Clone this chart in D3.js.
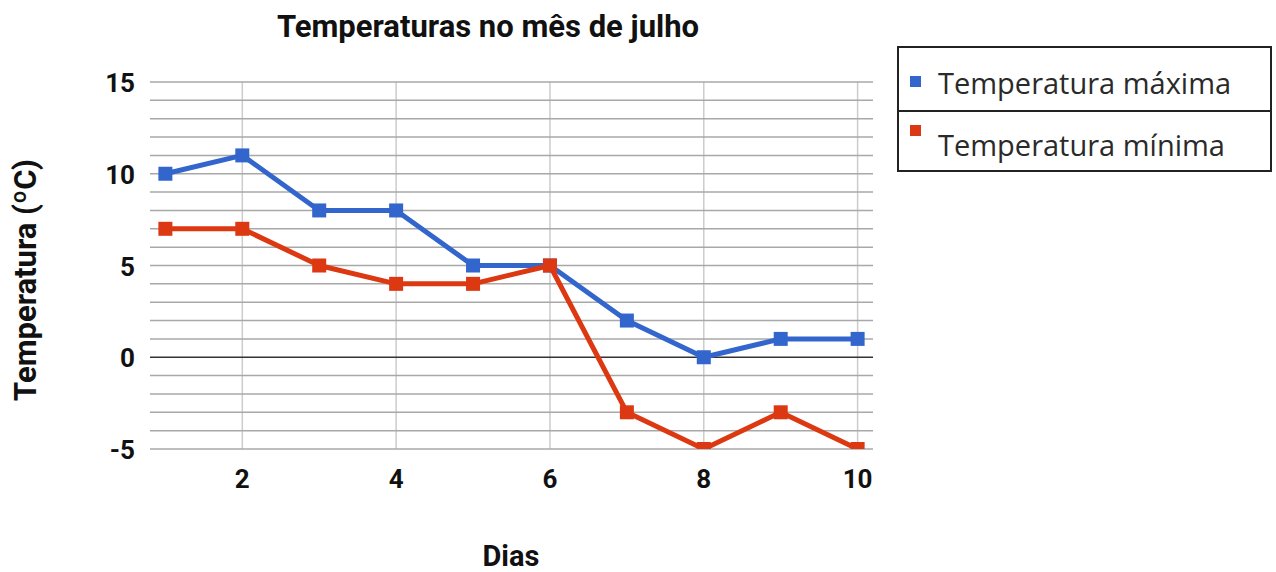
<!DOCTYPE html>
<html>
<head>
<meta charset="utf-8">
<script src="https://cdn.jsdelivr.net/npm/d3@7"></script>
<style>
    body { margin: 0; background: #fff; }
    svg { display: block; }
</style>
</head>
<body>
<script>
"use strict";

var days = [1, 2, 3, 4, 5, 6, 7, 8, 9, 10];
var tempMax = [10, 11, 8, 8, 5, 5, 2, 0, 1, 1];
var tempMin = [7, 7, 5, 4, 4, 5, -3, -5, -3, -5];
var seriesNames = ["Temperatura máxima", "Temperatura mínima"];
var seriesColors = ["#3366cc", "#dc3912"];
var xTicks = [2, 4, 6, 8, 10];
var yTicks = [-5, 0, 5, 10, 15];

var width = 1276, height = 572;
var plot = { left: 150, right: 873, top: 82, bottom: 449 };

var svg = d3.select("body").append("svg")
    .attr("width", width)
    .attr("height", height);

var x = d3.scaleLinear().domain([0.8, 10.2]).range([plot.left, plot.right]);
var y = d3.scaleLinear().domain([-5, 15]).range([plot.bottom, plot.top]);

svg.append("defs").append("clipPath")
    .attr("id", "plotClip")
  .append("rect")
    .attr("x", plot.left - 20)
    .attr("y", plot.top - 20)
    .attr("width", plot.right - plot.left + 40)
    .attr("height", plot.bottom - plot.top + 20);

// vertical gridlines
svg.append("g")
  .selectAll("line")
  .data(xTicks)
  .enter().append("line")
    .attr("x1", function (d) { return x(d); })
    .attr("x2", function (d) { return x(d); })
    .attr("y1", plot.top)
    .attr("y2", plot.bottom)
    .attr("stroke", "#cccccc")
    .attr("stroke-width", 1.5);

// horizontal gridlines, one per degree
svg.append("g")
  .selectAll("line")
  .data(d3.range(-5, 16))
  .enter().append("line")
    .attr("x1", plot.left)
    .attr("x2", plot.right)
    .attr("y1", function (d) { return y(d); })
    .attr("y2", function (d) { return y(d); })
    .attr("stroke", function (d) { return d === 0 ? "#333333" : "#a8a8a8"; })
    .attr("stroke-width", 1.5);

// axis labels
var tickFont = "Roboto, 'Liberation Sans', Arial, sans-serif";
svg.append("g")
  .selectAll("text")
  .data(yTicks)
  .enter().append("text")
    .attr("x", 135)
    .attr("y", function (d) { return y(d) + 10; })
    .attr("text-anchor", "end")
    .style("font-family", tickFont)
    .style("font-weight", "bold")
    .style("font-size", "26px")
    .style("fill", "#111")
    .text(function (d) { return d; });

svg.append("g")
  .selectAll("text")
  .data(xTicks)
  .enter().append("text")
    .attr("x", function (d) { return x(d); })
    .attr("y", 488)
    .attr("text-anchor", "middle")
    .style("font-family", tickFont)
    .style("font-weight", "bold")
    .style("font-size", "26px")
    .style("fill", "#111")
    .text(function (d) { return d; });

// series
var series = [tempMax, tempMin].map(function (vals, i) {
    return {
        name: seriesNames[i],
        color: seriesColors[i],
        points: vals.map(function (v, j) { return { day: days[j], value: v }; })
    };
});

var line = d3.line()
    .x(function (d) { return x(d.day); })
    .y(function (d) { return y(d.value); });

var lines = svg.append("g").attr("clip-path", "url(#plotClip)");
series.forEach(function (s) {
    lines.append("path")
        .datum(s.points)
        .attr("d", line)
        .attr("fill", "none")
        .attr("stroke", s.color)
        .attr("stroke-width", 5)
        .attr("stroke-linejoin", "round");
    lines.selectAll(null)
        .data(s.points)
        .enter().append("rect")
        .attr("x", function (d) { return x(d.day) - 7; })
        .attr("y", function (d) { return y(d.value) - 7; })
        .attr("width", 14)
        .attr("height", 14)
        .attr("fill", s.color);
});

// titles
svg.append("text")
    .attr("x", 488)
    .attr("y", 37)
    .attr("text-anchor", "middle")
    .style("font-family", tickFont)
    .style("font-weight", "bold")
    .style("font-size", "31px")
    .style("fill", "#111")
    .text("Temperaturas no mês de julho");

svg.append("text")
    .attr("x", 511)
    .attr("y", 566)
    .attr("text-anchor", "middle")
    .style("font-family", tickFont)
    .style("font-weight", "bold")
    .style("font-size", "29px")
    .style("fill", "#111")
    .text("Dias");

svg.append("text")
    .attr("transform", "translate(36, 280) rotate(-90)")
    .attr("text-anchor", "middle")
    .style("font-family", tickFont)
    .style("font-weight", "bold")
    .style("font-size", "31px")
    .style("fill", "#111")
    .text("Temperatura (ºC)");

// legend
var legend = svg.append("g");
legend.append("rect")
    .attr("x", 898)
    .attr("y", 47)
    .attr("width", 373)
    .attr("height", 124)
    .attr("fill", "#fff")
    .attr("stroke", "#222")
    .attr("stroke-width", 2);
legend.append("line")
    .attr("x1", 898).attr("x2", 1271)
    .attr("y1", 111).attr("y2", 111)
    .attr("stroke", "#222")
    .attr("stroke-width", 2);

var legendItems = legend.selectAll("g.item")
    .data(series)
    .enter().append("g")
    .classed("item", true);
legendItems.append("rect")
    .attr("x", 910)
    .attr("y", function (d, i) { return i === 0 ? 76 : 125; })
    .attr("width", 11)
    .attr("height", 11)
    .attr("fill", function (d) { return d.color; });
legendItems.append("text")
    .attr("x", 938)
    .attr("y", function (d, i) { return i === 0 ? 94 : 156; })
    .style("font-family", "'Open Sans', 'Noto Sans', sans-serif")
    .style("font-size", "29px")
    .style("fill", "#2a2a2a")
    .text(function (d) { return d.name; });
</script>
</body>
</html>
